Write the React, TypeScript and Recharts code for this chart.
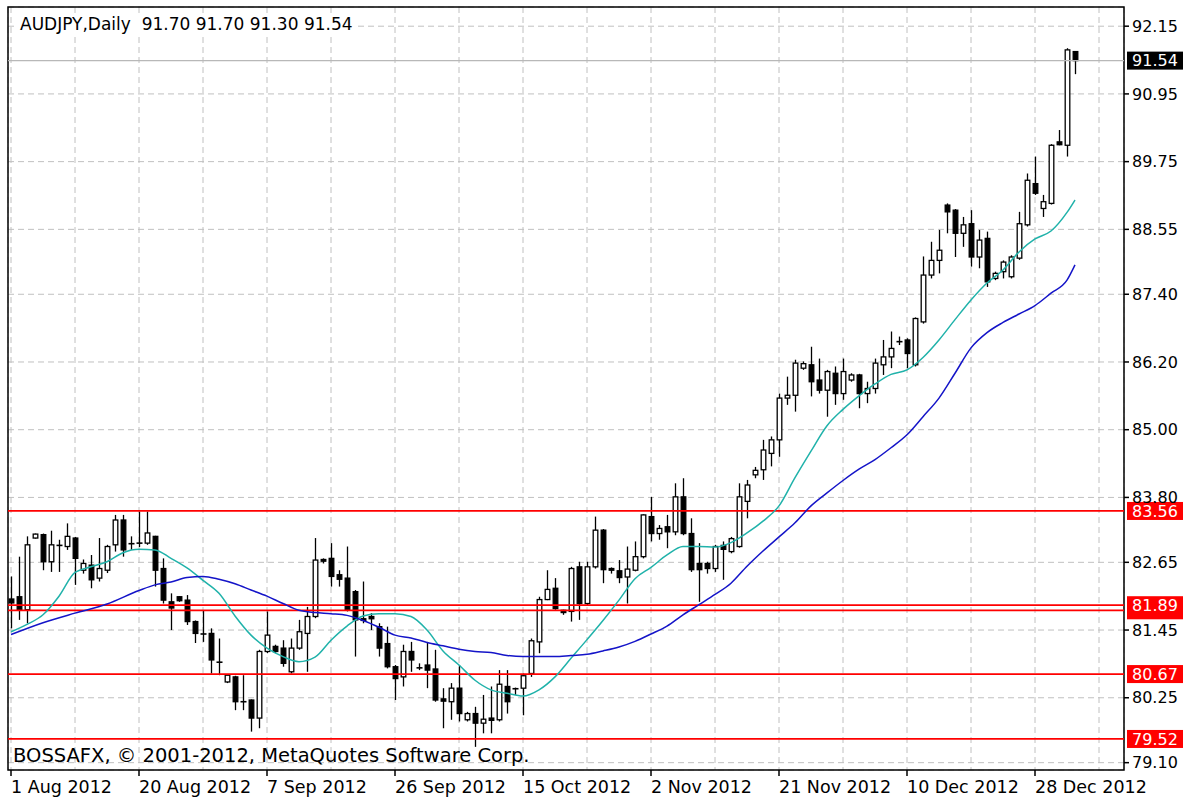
import {
  ComposedChart, Bar, Line, XAxis, YAxis,
  CartesianGrid, ReferenceLine, ReferenceArea,
} from 'recharts'

// ─── Data ─────────────────────────────────────────────────────────────────────

// one entry per daily bar, 1 Aug 2012 (index 0) to 3 Jan 2013 (index 133)
const OPEN = [
  82.00, 82.04, 81.81, 83.08, 83.14, 82.66, 82.97, 82.93,
  83.08, 82.51, 82.60, 82.37, 82.51, 82.96, 83.40, 82.99,
  82.99, 82.99, 83.11, 82.54, 81.95, 82.04, 81.98, 81.60,
  81.40, 81.39, 80.90, 80.53, 80.62, 80.20, 80.21, 79.89,
  81.07, 81.16, 81.13, 80.71, 81.13, 81.39, 81.69, 82.70,
  82.72, 82.43, 82.37, 82.13, 81.65, 81.69, 81.51, 81.21,
  80.80, 80.62, 81.07, 80.80, 80.83, 80.76, 80.23, 80.18,
  80.42, 79.86, 79.97, 79.80, 79.89, 79.86, 80.45, 80.42,
  80.42, 80.68, 81.24, 81.99, 82.19, 81.80, 81.78, 82.57,
  81.92, 82.57, 83.22, 82.54, 82.50, 82.39, 82.51, 82.75,
  83.46, 83.16, 83.28, 83.19, 83.81, 83.16, 82.63, 82.63,
  82.54, 82.95, 82.84, 82.93, 83.73, 84.20, 84.29, 84.58,
  84.82, 85.56, 85.61, 86.09, 86.15, 85.88, 85.70, 86.00,
  85.64, 85.88, 85.97, 85.64, 85.73, 86.15, 86.29, 86.56,
  86.59, 86.15, 86.91, 87.74, 88.00, 88.98, 88.89, 88.48,
  88.65, 88.06, 88.39, 87.68, 87.80, 87.71, 88.04, 88.63,
  89.36, 88.92, 89.01, 90.10, 90.04, 91.70,
]

const HIGH = [
  82.40, 82.75, 83.11, 83.16, 83.16, 83.21, 83.05, 83.34,
  83.10, 82.70, 82.78, 83.08, 82.96, 83.49, 83.49, 83.11,
  83.55, 83.55, 83.12, 82.72, 82.10, 82.05, 82.07, 81.62,
  81.80, 81.48, 81.30, 80.67, 80.64, 80.65, 80.22, 81.10,
  81.78, 81.19, 81.27, 81.30, 81.63, 81.86, 83.08, 82.72,
  82.99, 82.51, 82.93, 82.16, 82.31, 81.75, 81.57, 81.51,
  80.83, 81.19, 81.24, 80.86, 81.24, 81.10, 80.42, 80.51,
  80.83, 80.00, 80.09, 80.30, 80.45, 80.74, 80.74, 80.43,
  80.68, 81.30, 82.04, 82.51, 82.37, 81.81, 82.57, 82.66,
  82.66, 83.46, 83.24, 82.56, 82.69, 82.93, 83.02, 83.50,
  83.81, 83.31, 83.49, 84.05, 84.14, 83.43, 82.99, 82.66,
  82.96, 83.02, 83.10, 84.05, 84.11, 84.34, 84.82, 84.88,
  85.64, 85.94, 86.24, 86.21, 86.47, 86.26, 86.06, 86.12,
  86.26, 86.00, 85.99, 85.85, 86.26, 86.59, 86.74, 86.65,
  86.62, 86.99, 88.07, 88.33, 88.54, 89.01, 88.91, 88.77,
  88.89, 88.54, 88.51, 87.80, 88.00, 88.09, 88.86, 89.54,
  89.84, 89.16, 90.06, 90.31, 91.76, 91.70,
]

const LOW = [
  81.48, 81.63, 81.57, 83.07, 82.51, 82.48, 82.48, 82.87,
  82.25, 82.45, 82.19, 82.31, 82.46, 82.84, 82.75, 82.87,
  82.92, 82.96, 82.22, 81.92, 81.45, 81.95, 81.54, 81.22,
  81.24, 80.68, 80.65, 80.51, 80.03, 80.03, 79.65, 79.71,
  81.04, 81.04, 80.80, 80.68, 81.10, 80.71, 81.66, 82.63,
  82.22, 82.22, 81.78, 80.98, 81.57, 81.45, 80.98, 80.77,
  80.21, 80.45, 80.71, 80.74, 80.42, 80.18, 79.71, 79.86,
  79.83, 79.83, 79.38, 79.62, 79.62, 79.83, 79.97, 80.30,
  79.94, 80.62, 81.04, 81.98, 81.81, 81.72, 81.60, 81.63,
  81.89, 82.54, 82.28, 82.45, 82.28, 81.92, 82.49, 82.72,
  83.02, 83.05, 82.90, 83.13, 83.13, 82.48, 81.95, 82.45,
  82.48, 82.34, 82.81, 82.91, 83.43, 84.14, 84.11, 84.35,
  84.52, 85.44, 85.32, 86.06, 85.59, 85.64, 85.23, 85.44,
  85.53, 85.85, 85.38, 85.47, 85.64, 85.97, 86.09, 86.50,
  86.09, 86.12, 86.88, 87.68, 87.77, 88.48, 88.06, 88.24,
  87.89, 87.86, 87.53, 87.65, 87.68, 87.68, 88.01, 88.60,
  89.16, 88.77, 88.99, 90.04, 89.84, 91.30,
]

const CLOSE = [
  81.93, 81.81, 82.96, 83.15, 82.66, 82.96, 82.95, 83.11,
  82.72, 82.63, 82.34, 82.54, 82.93, 83.40, 82.87, 82.98,
  82.99, 83.17, 82.51, 81.98, 81.84, 81.97, 81.60, 81.39,
  81.38, 80.92, 80.88, 80.65, 80.18, 80.18, 79.89, 81.07,
  81.36, 81.07, 80.86, 81.13, 81.42, 81.69, 82.69, 82.67,
  82.40, 82.35, 81.81, 81.63, 81.62, 81.65, 81.13, 80.80,
  80.59, 81.07, 80.92, 80.78, 80.74, 80.21, 80.19, 80.42,
  79.97, 79.97, 79.80, 79.87, 79.85, 80.49, 80.18, 80.41,
  80.64, 81.26, 81.99, 82.17, 81.83, 81.76, 82.54, 81.92,
  82.57, 83.22, 82.52, 82.51, 82.38, 82.53, 82.75, 83.49,
  83.16, 83.25, 83.19, 83.81, 83.16, 82.52, 82.52, 82.54,
  82.93, 82.88, 83.07, 83.81, 84.02, 84.28, 84.64, 84.82,
  85.56, 85.61, 86.18, 86.17, 85.85, 85.70, 86.03, 85.64,
  86.03, 85.97, 85.64, 85.73, 86.18, 86.29, 86.44, 86.56,
  86.35, 86.97, 87.74, 88.00, 88.18, 88.86, 88.48, 88.63,
  88.06, 88.36, 87.62, 87.77, 87.97, 88.06, 88.65, 89.42,
  89.19, 89.04, 90.04, 90.05, 91.73, 91.54,
]

// moving averages as [bar index, value]
const FAST_MA: [number, number][] = [
  [0, 81.42], [2, 81.55], [4, 81.72], [6, 82.05], [8, 82.47], [10, 82.57],
  [12, 82.66], [14, 82.82], [16, 82.88], [18, 82.87], [20, 82.72], [22, 82.55],
  [24, 82.33], [26, 82.10], [28, 81.70], [30, 81.36], [32, 81.13], [34, 80.98],
  [36, 80.89], [38, 80.97], [40, 81.27], [42, 81.52], [44, 81.70], [46, 81.74],
  [48, 81.74], [50, 81.69], [52, 81.45], [54, 81.08], [56, 80.83], [58, 80.56],
  [60, 80.39], [62, 80.33], [64, 80.28], [66, 80.39], [68, 80.62], [70, 80.95],
  [72, 81.28], [74, 81.62], [76, 81.98], [78, 82.36], [80, 82.56], [82, 82.78],
  [84, 82.93], [86, 82.93], [88, 82.92], [90, 83.00], [92, 83.17], [94, 83.38],
  [96, 83.65], [98, 84.15], [100, 84.62], [102, 85.07], [104, 85.36], [106, 85.60],
  [108, 85.81], [110, 85.98], [112, 86.06], [114, 86.28], [116, 86.59], [118, 86.95],
  [120, 87.30], [122, 87.60], [124, 87.83], [126, 88.15], [128, 88.38], [130, 88.52],
  [132, 88.85], [133, 89.07],
]

const SLOW_MA: [number, number][] = [
  [0, 81.37], [4, 81.58], [8, 81.75], [12, 81.91], [16, 82.15], [18, 82.25],
  [20, 82.30], [22, 82.38], [24, 82.40], [26, 82.35], [28, 82.27], [30, 82.16],
  [32, 82.05], [34, 81.92], [36, 81.80], [38, 81.76], [40, 81.74], [42, 81.71],
  [44, 81.62], [46, 81.50], [48, 81.36], [50, 81.31], [52, 81.23], [54, 81.17],
  [56, 81.11], [58, 81.07], [60, 81.05], [62, 81.00], [64, 80.98], [66, 80.98],
  [68, 80.98], [70, 81.00], [72, 81.02], [74, 81.08], [76, 81.15], [78, 81.25],
  [80, 81.38], [82, 81.52], [84, 81.72], [86, 81.90], [88, 82.08], [90, 82.28],
  [92, 82.58], [94, 82.85], [96, 83.10], [98, 83.35], [100, 83.65], [102, 83.88],
  [104, 84.10], [106, 84.30], [108, 84.47], [110, 84.68], [112, 84.91], [114, 85.23],
  [116, 85.56], [118, 86.00], [120, 86.45], [122, 86.72], [124, 86.90], [126, 87.05],
  [128, 87.20], [130, 87.42], [132, 87.65], [133, 87.92],
]

const DATE_LABELS = [
  '1 Aug 2012', '20 Aug 2012', '7 Sep 2012', '26 Sep 2012', '15 Oct 2012',
  '2 Nov 2012', '21 Nov 2012', '10 Dec 2012', '28 Dec 2012',
]
const X_TICKS = [0, 8, 16, 24, 32, 40, 48, 56, 64, 72, 80, 88, 96, 104, 112, 120, 128, 136]
const Y_TICKS = [79.10, 80.25, 81.45, 82.65, 83.80, 85.00, 86.20, 87.40, 88.55, 89.75, 90.95, 92.15]

// horizontal levels; the 81.80 tag sits under the 81.89 one
const LEVELS = [83.56, 81.89, 80.67, 79.52]
const HIDDEN_LEVEL = 81.80
const LAST_PRICE = 91.54

// ─── Constants ────────────────────────────────────────────────────────────────

const FONT = '"DejaVu Sans", Verdana, sans-serif'
const X_DOMAIN: [number, number] = [-0.375, 139.125]
const Y_DOMAIN: [number, number] = [78.97, 92.49]

const fastMap = new Map(FAST_MA)
const slowMap = new Map(SLOW_MA)

const DATA = OPEN.map((o, i) => ({
  i,
  o,
  h: HIGH[i],
  l: LOW[i],
  c: CLOSE[i],
  range: [LOW[i], HIGH[i]],
  fast: fastMap.get(i) ?? null,
  slow: slowMap.get(i) ?? null,
}))

// ─── Candle shape ─────────────────────────────────────────────────────────────

function Candle(props: any) {
  const { x, y, width, height, payload } = props
  if (payload == null) return null
  const { o, h, l, c } = payload
  const top = Math.min(y, y + height)
  const span = Math.abs(height)
  const k = h > l ? span / (h - l) : 0
  const yOf = (v: number) => top + (h - v) * k
  const cx = Math.round(x + width / 2) + 0.5
  const yo = yOf(o)
  const yc = yOf(c)
  const bodyTop = Math.min(yo, yc)
  const bodyH = Math.abs(yo - yc)

  return (
    <g>
      <line x1={cx} x2={cx} y1={top} y2={top + span} stroke="#000" strokeWidth={1.3} />
      {bodyH < 1.5 ? (
        <line x1={cx - 3} x2={cx + 3} y1={yc} y2={yc} stroke="#000" strokeWidth={1.6} />
      ) : (
        <rect
          x={cx - 2.3}
          y={bodyTop}
          width={4.6}
          height={bodyH}
          fill={c >= o ? '#fff' : '#000'}
          stroke="#000"
          strokeWidth={1.3}
        />
      )}
    </g>
  )
}

// ─── Axis ticks / tags ────────────────────────────────────────────────────────

function DateTick(props: any) {
  const { x, y, payload } = props
  const v = payload?.value
  if (v % 16 !== 0) return <g />
  const label = DATE_LABELS[v / 16]
  if (!label) return <g />
  return (
    <g>
      <line x1={x} x2={x} y1={y} y2={y + 6} stroke="#000" strokeWidth={1.5} />
      <text x={x} y={y + 23} fontSize={17.5} fontFamily={FONT} fill="#000">{label}</text>
    </g>
  )
}

function PriceTag(props: any) {
  const { viewBox, text, fill } = props
  if (!viewBox) return null
  const x = viewBox.x + viewBox.width + 3
  const y = viewBox.y
  return (
    <g>
      <rect x={x} y={y - 9} width={56} height={18} fill={fill} />
      {text && (
        <text x={x + 28} y={y} dy="0.36em" textAnchor="middle" fill="#fff" fontSize={16} fontFamily={FONT}>
          {text}
        </text>
      )}
    </g>
  )
}

// ─── App ──────────────────────────────────────────────────────────────────────

export default function App() {
  return (
    <div style={{ position: 'absolute', left: 0, top: 0, width: 1192, height: 799, background: '#fff' }}>
      <ComposedChart
        width={1192}
        height={799}
        data={DATA}
        margin={{ top: 7, right: 0, bottom: 0, left: 8 }}
      >
        <CartesianGrid stroke="#C0C0C0" strokeDasharray="6 4" />
        <XAxis
          dataKey="i"
          type="number"
          domain={X_DOMAIN}
          ticks={X_TICKS}
          interval={0}
          allowDataOverflow
          height={29}
          axisLine={false}
          tickLine={false}
          tickSize={0}
          tickMargin={0}
          tick={<DateTick />}
        />
        <YAxis
          orientation="right"
          type="number"
          domain={Y_DOMAIN}
          ticks={Y_TICKS}
          interval={0}
          allowDataOverflow
          width={68}
          axisLine={false}
          tickSize={5}
          tickMargin={3}
          tickLine={{ stroke: '#000', strokeWidth: 1.5 }}
          tickFormatter={(v: number) => v.toFixed(2)}
          tick={{ fontSize: 16, fill: '#000', fontFamily: FONT }}
        />

        <ReferenceLine
          y={LAST_PRICE}
          stroke="#B8B8B8"
          strokeWidth={1.2}
          label={<PriceTag text={LAST_PRICE.toFixed(2)} fill="#000" />}
        />
        <ReferenceLine
          y={HIDDEN_LEVEL}
          stroke="#FF0000"
          strokeWidth={1.8}
          label={<PriceTag text="" fill="#FF0000" />}
        />
        {LEVELS.map((lv) => (
          <ReferenceLine
            key={lv}
            y={lv}
            stroke="#FF0000"
            strokeWidth={1.8}
            label={<PriceTag text={lv.toFixed(2)} fill="#FF0000" />}
          />
        ))}

        <Bar dataKey="range" barSize={5} shape={<Candle />} isAnimationActive={false} />

        <Line
          dataKey="fast"
          type="monotone"
          stroke="#20B2AA"
          strokeWidth={1.5}
          dot={false}
          activeDot={false}
          connectNulls
          isAnimationActive={false}
        />
        <Line
          dataKey="slow"
          type="monotone"
          stroke="#1414C8"
          strokeWidth={1.5}
          dot={false}
          activeDot={false}
          connectNulls
          isAnimationActive={false}
        />

        <ReferenceArea
          x1={X_DOMAIN[0]}
          x2={X_DOMAIN[1]}
          y1={Y_DOMAIN[0]}
          y2={Y_DOMAIN[1]}
          fill="none"
          stroke="#000"
          strokeWidth={1.5}
          ifOverflow="visible"
        />
      </ComposedChart>

      <div style={{
        position: 'absolute', left: 18, top: 14, padding: '0 2px', background: '#fff',
        fontFamily: FONT, fontSize: 17, lineHeight: '20px', color: '#000', whiteSpace: 'pre',
      }}>
        {'AUDJPY,Daily  91.70 91.70 91.30 91.54'}
      </div>
      <div style={{
        position: 'absolute', left: 13, top: 745,
        fontFamily: FONT, fontSize: 19.5, lineHeight: '22px', color: '#000', whiteSpace: 'pre',
      }}>
        BOSSAFX, © 2001-2012, MetaQuotes Software Corp.
      </div>
    </div>
  )
}
